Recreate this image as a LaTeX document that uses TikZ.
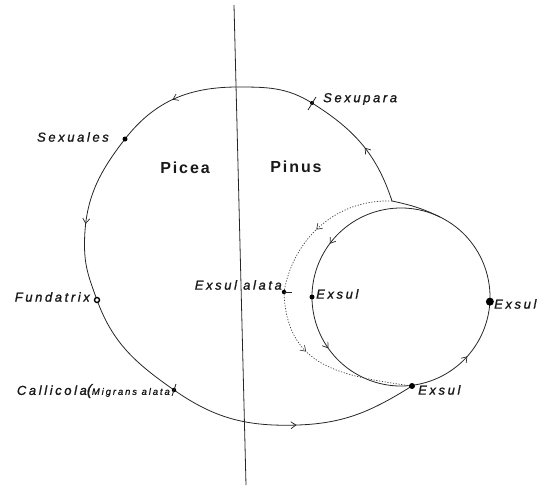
\documentclass[tikz,border=0pt]{standalone}
\usepackage{fontspec}
\newfontfamily\labfont{Liberation Sans}[LetterSpace=20, FakeBold=1.2]
\newfontfamily\hostfont{Liberation Sans}[LetterSpace=12]
\usetikzlibrary{arrows.meta,decorations.markings}

\begin{document}
\begin{tikzpicture}[x=1pt, y=1pt,
  cyc/.style={line width=0.8pt, black!85},
  dots/.style={line width=0.7pt, black!75, dash pattern=on 1.2pt off 1.6pt},
  arr/.style={postaction={decorate, decoration={markings,
      mark=at position #1 with {\arrow{Straight Barb[length=5pt, width=7pt, line width=0.7pt]}}}}},
  dot/.style={circle, fill=black, inner sep=0pt, minimum size=#1},
  lab/.style={font=\labfont\itshape\fontsize{13}{13}\selectfont, text=black!90, inner sep=1pt},
  host/.style={font=\hostfont\bfseries\fontsize{16}{16}\selectfont, text=black!90},
]
\useasboundingbox (0,0) rectangle (544,-488);

% ====== Picea | Pinus divide ======
\coordinate (vtop) at (234,-5);
\coordinate (vbot) at (246,-485);
\draw[cyc] (vtop) -- (vbot);
\node[host] (picea) at (185,-168) {Picea};
\node[host] (pinus) at (296,-167) {Pinus};

% ====== big cycle (points on the curve) ======
\coordinate (corner) at (392,-201);
\coordinate (sexupara) at (312,-103);
\coordinate (top) at (238,-87);
\coordinate (sexuales) at (125,-139);
\coordinate (lft) at (84.5,-245);
\coordinate (fundatrix) at (97,-300);
\coordinate (callicola) at (174,-390);
\coordinate (bot) at (298,-425);
\coordinate (exsulB) at (412,-386);
\draw[cyc, arr=0.068, arr=0.31, arr=0.488, arr=0.86]
  (corner) to[out=108, in=-32] (sexupara)
  to[out=148, in=0] (top)
  to[out=180, in=52] (sexuales)
  to[out=232, in=90] (lft)
  to[out=270, in=110] (fundatrix)
  to[out=-70, in=145] (callicola)
  to[out=-35, in=182] (bot)
  to[out=2, in=212] (exsulB);

% ====== small cycle on Pinus ======
\coordinate (ctr) at (401,-297);
\coordinate (join) at ([shift={(64:89)}]ctr);
\coordinate (exsulL) at ([shift={(180:89)}]ctr);
\coordinate (exsulR) at ([shift={(-3:89)}]ctr);
\draw[cyc] (corner) to[out=-12, in=154] (join);
\draw[cyc, arr=0.22, arr=0.42, arr=0.706] (join) arc[start angle=64, end angle=424, radius=89];

% ====== winged exsules (dotted) ======
\coordinate (alata) at (284,-292);
\draw[dots, arr=0.25, arr=0.66]
  (corner) to[out=178, in=80] (alata)
  to[out=-88, in=172, looseness=1.2] (exsulB);

% ====== stages ======
\node[dot=5pt] (sexuales-d) at (sexuales) {};
\node[dot=4pt] (sexupara-d) at (sexupara) {};
\draw[cyc] (sexupara-d) ++(-4,-7) -- ++(8,13);
\node[circle, draw=black, line width=1.4pt, fill=white, inner sep=0pt, minimum size=5pt] (fundatrix-d) at (fundatrix) {};
\node[dot=4.5pt] (callicola-d) at (callicola) {};
\draw[cyc] (callicola-d) ++(-2,-6) -- ++(4,12);
\node[dot=4.5pt] (alata-d) at (alata) {};
\draw[cyc] (alata-d.center) -- ++(8,0);
\node[dot=5pt] (exsulL-d) at (exsulL) {};
\node[dot=8pt] (exsulR-d) at (exsulR) {};
\node[dot=6pt] (exsulB-d) at (exsulB) {};

\node[lab, anchor=west] (sexupara-l) at (322,-99) {Sexupara};
\node[lab, anchor=east] (sexuales-l) at (110,-137) {Sexuales};
\node[lab, anchor=east] (fundatrix-l) at (91,-297) {Fundatrix};
\node[lab, anchor=east] (callicola-l) at (171,-391)
  {Callicola{\fontsize{15}{15}\selectfont(}{\fontsize{9.5}{9.5}\selectfont Migrans alata}};
\node[lab, anchor=east] (alata-l) at (283,-285) {Exsul alata};
\node[lab, anchor=west] (exsulL-l) at (315,-294) {Exsul};
\node[lab, anchor=west] (exsulR-l) at (493,-304) {Exsul};
\node[lab, anchor=west] (exsulB-l) at (417,-390) {Exsul};

\end{tikzpicture}
\end{document}
